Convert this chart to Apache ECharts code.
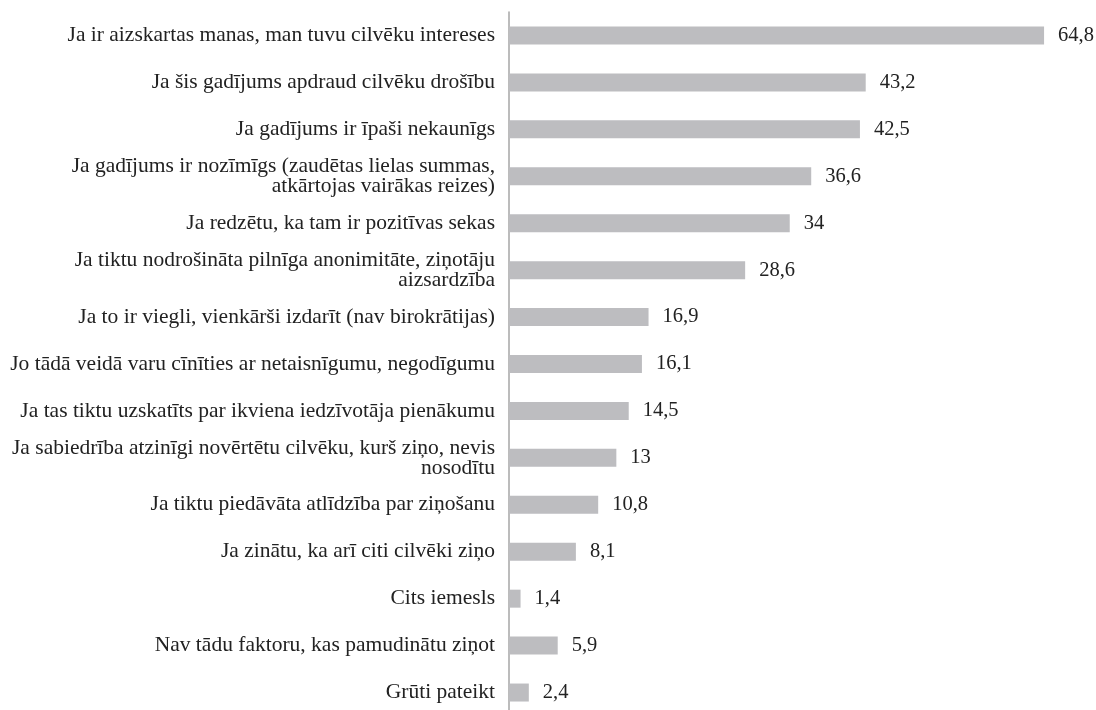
<!DOCTYPE html>
<html>
<head>
<meta charset="utf-8">
<script src="https://cdn.jsdelivr.net/npm/echarts@6/dist/echarts.min.js"></script>
<style>
  html, body { margin: 0; padding: 0; background: #fff; }
  #chart { width: 1096px; height: 710px; }
</style>
</head>
<body>
<div id="chart"></div>
<script>
  var categories = [
    'Ja ir aizskartas manas, man tuvu cilvēku intereses',
    'Ja šis gadījums apdraud cilvēku drošību',
    'Ja gadījums ir īpaši nekaunīgs',
    'Ja gadījums ir nozīmīgs (zaudētas lielas summas,\natkārtojas vairākas reizes)',
    'Ja redzētu, ka tam ir pozitīvas sekas',
    'Ja tiktu nodrošināta pilnīga anonimitāte, ziņotāju\naizsardzība',
    'Ja to ir viegli, vienkārši izdarīt (nav birokrātijas)',
    'Jo tādā veidā varu cīnīties ar netaisnīgumu, negodīgumu',
    'Ja tas tiktu uzskatīts par ikviena iedzīvotāja pienākumu',
    'Ja sabiedrība atzinīgi novērtētu cilvēku, kurš ziņo, nevis\nnosodītu',
    'Ja tiktu piedāvāta atlīdzība par ziņošanu',
    'Ja zinātu, ka arī citi cilvēki ziņo',
    'Cits iemesls',
    'Nav tādu faktoru, kas pamudinātu ziņot',
    'Grūti pateikt'
  ]
  var values = [64.8, 43.2, 42.5, 36.6, 34, 28.6, 16.9, 16.1, 14.5, 13, 10.8, 8.1, 1.4, 5.9, 2.4]

  var chart = echarts.init(document.getElementById('chart'))
  chart.setOption({
    animation: false,
    grid: { left: 509, top: 12, width: 578, height: 704, outerBoundsMode: 'none' },
    xAxis: {
      type: 'value',
      min: 0,
      max: 70,
      show: false
    },
    yAxis: {
      type: 'category',
      inverse: true,
      data: categories,
      axisLine: { lineStyle: { color: '#a6a6a6', width: 1.5 } },
      axisTick: { show: false },
      axisLabel: {
        margin: 14,
        color: '#222',
        fontFamily: 'Liberation Serif',
        fontSize: 21.5,
        lineHeight: 20,
        align: 'right'
      }
    },
    series: [{
      type: 'bar',
      data: values,
      barWidth: 18,
      itemStyle: { color: '#bdbdc0' },
      label: {
        show: true,
        position: 'right',
        distance: 14,
        color: '#222',
        fontFamily: 'Liberation Serif',
        fontSize: 20.5,
        formatter: function (p) { return String(p.value).replace('.', ',') }
      }
    }]
  })
</script>
</body>
</html>
